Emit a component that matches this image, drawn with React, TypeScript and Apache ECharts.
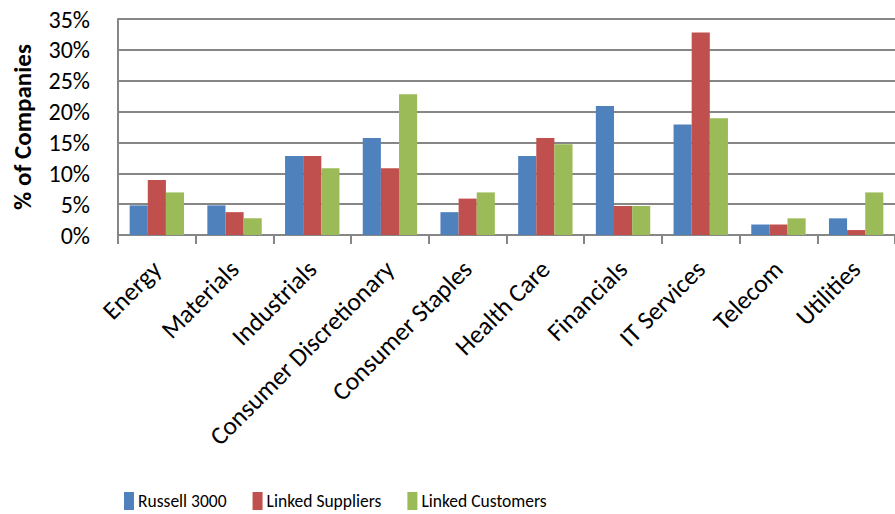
import React, { useEffect, useRef } from "react";
import * as echarts from "echarts";

const categories = ["Energy", "Materials", "Industrials", "Consumer Discretionary", "Consumer Staples", "Health Care", "Financials", "IT Services", "Telecom", "Utilities"];
const russell3000 = [4.8, 4.8, 12.8, 15.7, 3.7, 12.8, 20.9, 17.9, 1.7, 2.7];
const linkedSuppliers = [8.9, 3.7, 12.8, 10.8, 5.9, 15.7, 4.7, 32.8, 1.7, 0.8];
const linkedCustomers = [6.9, 2.7, 10.8, 22.8, 6.9, 14.7, 4.7, 18.9, 2.7, 6.9];
const yTicks = [0, 5, 10, 15, 20, 25, 30, 35];

const FONT = "Carlito, 'Liberation Sans', sans-serif";

export default function App() {
  const ref = useRef<HTMLDivElement>(null);
  useEffect(() => {
    const chart = echarts.init(ref.current!, undefined, { renderer: "svg" });
    const mk = (name: string, data: number[], color: string) => ({
      name,
      type: "bar",
      data,
      barGap: "0%",
      barCategoryGap: "30%",
      itemStyle: { color },
    });
    chart.setOption({
      animation: false,
      textStyle: { fontFamily: FONT },
      grid: { left: 118, top: 19, width: 781, height: 216, containLabel: false },
      legend: {
        left: 124,
        top: 492,
        padding: 0,
        itemWidth: 10,
        itemHeight: 18,
        itemGap: 26,
        textStyle: { fontSize: 17.5, color: "#000", fontFamily: FONT, padding: [0, 0, 0, -1] },
        icon: "rect",
        data: ["Russell 3000", "Linked Suppliers", "Linked Customers"],
      },
      xAxis: {
        type: "category",
        data: categories,
        axisLine: { lineStyle: { color: "#868686", width: 2 } },
        axisTick: { show: true, length: 9, lineStyle: { color: "#868686", width: 2 } },
        axisLabel: { rotate: 45, fontSize: 25.5, color: "#000", margin: 30, interval: 0, fontFamily: FONT },
      },
      yAxis: {
        type: "value",
        min: yTicks[0],
        max: yTicks[yTicks.length - 1],
        interval: 5,
        name: "% of Companies",
        nameLocation: "middle",
        nameRotate: 90,
        nameGap: 83,
        nameTextStyle: { fontSize: 25, fontWeight: "bold", color: "#000", fontFamily: FONT },
        axisLine: { show: true, lineStyle: { color: "#868686", width: 2 } },
        axisTick: { show: false },
        splitLine: { lineStyle: { color: "#868686", width: 2 } },
        axisLabel: { fontSize: 24, color: "#000", margin: 28, formatter: "{value}%", fontFamily: FONT },
      },
      series: [
        mk("Russell 3000", russell3000, "#4F81BD"),
        mk("Linked Suppliers", linkedSuppliers, "#C0504D"),
        mk("Linked Customers", linkedCustomers, "#9BBB59"),
      ],
    });
    return () => chart.dispose();
  }, []);
  return <div ref={ref} style={{ width: 895, height: 514, position: "absolute", left: 0, top: 0 }} />;
}
